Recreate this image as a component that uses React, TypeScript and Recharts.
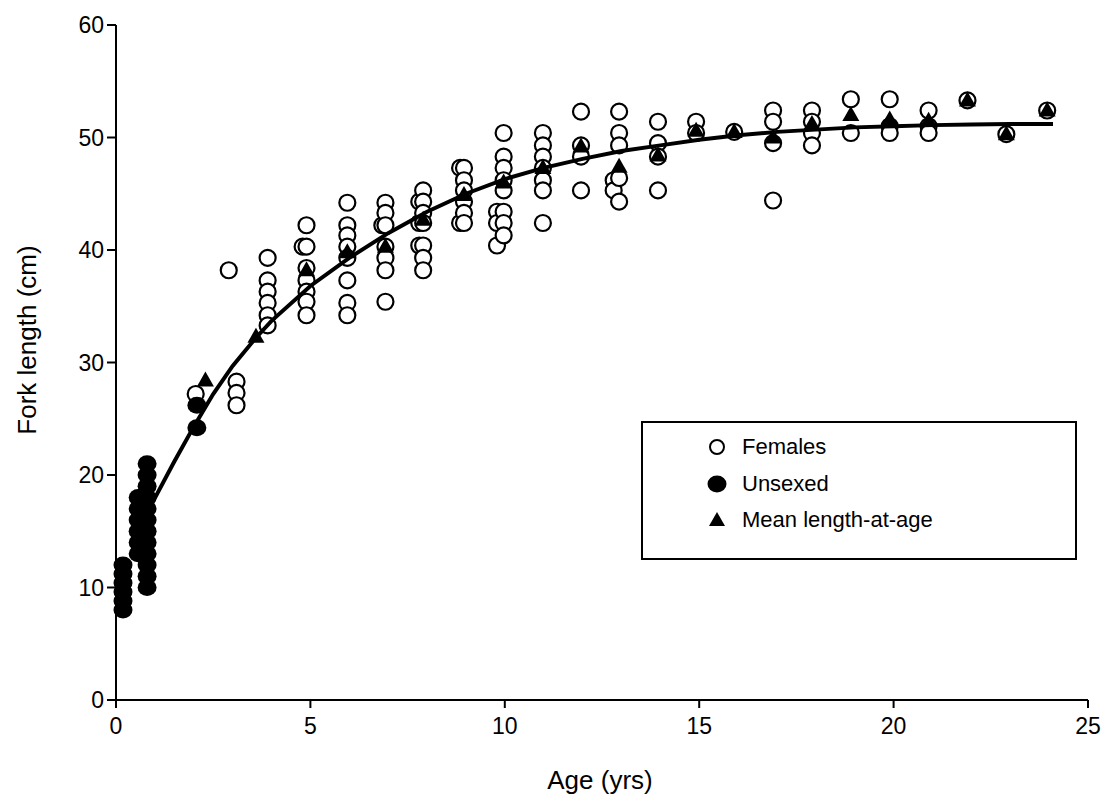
import { ScatterChart, Scatter, XAxis, YAxis } from 'recharts';

// [age (yrs), fork length (cm)]
const femalePoints: [number, number][] = [
  [2.05, 27.2],
  [2.9, 38.2],
  [3.1, 28.3], [3.1, 27.3], [3.1, 26.2],
  [3.9, 39.3], [3.9, 37.3], [3.9, 36.3], [3.9, 35.3], [3.9, 34.2], [3.9, 33.3],
  [4.8, 40.3],
  [4.9, 42.2], [4.9, 40.3], [4.9, 38.4], [4.9, 37.3], [4.9, 36.3], [4.9, 35.4], [4.9, 34.2],
  [5.95, 44.2], [5.95, 42.2], [5.95, 41.3], [5.95, 40.3], [5.95, 39.3], [5.95, 37.3], [5.95, 35.3], [5.95, 34.2],
  [6.85, 42.2],
  [6.93, 44.2], [6.93, 43.3], [6.93, 42.2], [6.93, 40.3], [6.93, 39.3], [6.93, 38.2], [6.93, 35.4],
  [7.8, 44.3], [7.8, 42.4], [7.8, 40.4],
  [7.9, 45.3], [7.9, 44.3], [7.9, 43.3], [7.9, 42.4], [7.9, 40.4], [7.9, 39.3], [7.9, 38.2],
  [8.85, 47.3], [8.85, 42.4],
  [8.95, 47.3], [8.95, 46.2], [8.95, 45.3], [8.95, 44.3], [8.95, 43.3], [8.95, 42.4],
  [9.8, 43.4], [9.8, 42.4], [9.8, 40.4],
  [9.97, 50.4], [9.97, 48.3], [9.97, 47.3], [9.97, 46.2], [9.97, 45.3], [9.97, 43.4], [9.97, 42.4], [9.97, 41.3],
  [10.98, 50.4], [10.98, 49.3], [10.98, 48.3], [10.98, 47.3], [10.98, 46.2], [10.98, 45.3], [10.98, 42.4],
  [11.96, 52.3], [11.96, 49.3], [11.96, 48.3], [11.96, 45.3],
  [12.8, 46.2], [12.8, 45.3],
  [12.94, 52.3], [12.94, 50.4], [12.94, 49.3], [12.94, 46.4], [12.94, 44.3],
  [13.94, 51.4], [13.94, 49.5], [13.94, 48.3], [13.94, 45.3],
  [14.92, 51.4], [14.92, 50.4],
  [15.9, 50.5],
  [16.9, 52.4], [16.9, 51.4], [16.9, 49.5], [16.9, 44.4],
  [17.9, 52.4], [17.9, 51.4], [17.9, 50.4], [17.9, 49.3],
  [18.9, 53.4], [18.9, 50.4],
  [19.9, 53.4], [19.9, 51.0], [19.9, 50.4],
  [20.9, 52.4], [20.9, 51.0], [20.9, 50.4],
  [21.9, 53.3],
  [22.9, 50.3],
  [23.95, 52.4],
];

const unsexedPoints: [number, number][] = [
  [0.18, 8], [0.18, 8.8], [0.18, 9.6], [0.18, 10.4], [0.18, 11.2], [0.18, 12],
  [0.57, 13], [0.57, 14], [0.57, 15], [0.57, 16], [0.57, 17], [0.57, 18],
  [0.8, 10], [0.8, 11], [0.8, 12], [0.8, 13], [0.8, 14], [0.8, 15],
  [0.8, 16], [0.8, 17], [0.8, 18], [0.8, 19], [0.8, 20], [0.8, 21],
  [2.08, 26.2], [2.08, 24.2],
];

const meanPoints: [number, number][] = [
  [2.3, 28.4], [3.6, 32.3], [4.9, 38.2], [5.95, 39.8], [6.93, 40.3], [7.9, 42.7],
  [8.95, 44.9], [9.97, 46.0], [10.98, 47.3], [11.96, 49.2], [12.94, 47.4], [13.94, 48.4],
  [14.92, 50.6], [15.9, 50.5], [16.9, 50.0], [17.9, 51.2], [18.9, 52.0], [19.9, 51.6],
  [20.9, 51.5], [21.9, 53.3], [22.9, 50.3], [23.95, 52.4],
];

// fitted growth curve
const curvePoints: [number, number][] = [
  [0.9, 17.3], [1.5, 21.2], [2, 24.3], [2.5, 27.2], [3, 29.7], [3.6, 32.2], [4, 33.7],
  [5, 36.8], [6, 39.3], [7, 41.5], [8, 43.4], [9, 45.0], [10, 46.3], [11, 47.3],
  [12, 48.1], [13, 48.8], [14, 49.3], [15, 49.8], [16, 50.2], [17, 50.5], [18, 50.7],
  [19, 50.9], [20, 51.0], [21, 51.1], [22, 51.15], [23, 51.2], [24.1, 51.2],
];

const xTicks = [0, 5, 10, 15, 20, 25];
const yTicks = [0, 10, 20, 30, 40, 50, 60];

const toRows = (pts: [number, number][]) => pts.map(([age, len]) => ({ age, len }));

const FONT = '"Liberation Sans", Arial, sans-serif';

const FemaleDot = (p: any) => (
  <circle cx={p.cx} cy={p.cy} r={8} fill="#fff" stroke="#000" strokeWidth={2.2} />
);
const UnsexedDot = (p: any) => <ellipse cx={p.cx} cy={p.cy} rx={9.5} ry={8.5} fill="#000" />;
const MeanDot = (p: any) => (
  <polygon
    points={`${p.cx},${p.cy - 9} ${p.cx - 8.5},${p.cy + 6} ${p.cx + 8.5},${p.cy + 6}`}
    fill="#000"
  />
);
const NoDot = () => <g />;

const tickStyle = { fill: '#000', fontSize: 23, fontFamily: FONT };

const Legend = () => (
  <div
    style={{
      position: 'absolute',
      left: 641,
      top: 421,
      width: 432,
      height: 135,
      border: '2px solid #000',
      background: '#fff',
      fontFamily: FONT,
      fontSize: 22,
      color: '#000',
    }}
  >
    {[
      { label: 'Females', icon: <circle cx={12} cy={12} r={7} fill="#fff" stroke="#000" strokeWidth={2} /> },
      { label: 'Unsexed', icon: <ellipse cx={12} cy={12} rx={9.5} ry={8.5} fill="#000" /> },
      { label: 'Mean length-at-age', icon: <polygon points="12,4 4,18 20,18" fill="#000" /> },
    ].map((e, i) => (
      <div key={e.label} style={{ position: 'absolute', left: 62, top: 12 + i * 36.5, display: 'flex', alignItems: 'center', height: 24 }}>
        <svg width={24} height={24}>{e.icon}</svg>
        <span style={{ marginLeft: 13 }}>{e.label}</span>
      </div>
    ))}
  </div>
);

export default function App() {
  return (
    <div style={{ position: 'absolute', left: 0, top: 0, width: 1111, height: 802, background: '#fff' }}>
      <ScatterChart width={1111} height={802} margin={{ top: 25, right: 23, bottom: 52, left: 56 }}>
        <XAxis
          type="number"
          dataKey="age"
          domain={[0, 25]}
          ticks={xTicks}
          tick={tickStyle}
          tickSize={8}
          tickMargin={10}
          height={50}
          axisLine={{ stroke: '#000', strokeWidth: 2 }}
          tickLine={{ stroke: '#000', strokeWidth: 2 }}
          label={() => (
            <text x={600} y={780} textAnchor="middle" dominantBaseline="central" fontSize={26} fontFamily={FONT} fill="#000">
              Age (yrs)
            </text>
          )}
        />
        <YAxis
          type="number"
          dataKey="len"
          domain={[0, 60]}
          ticks={yTicks}
          tick={tickStyle}
          tickSize={9}
          tickMargin={3}
          width={60}
          axisLine={{ stroke: '#000', strokeWidth: 2 }}
          tickLine={{ stroke: '#000', strokeWidth: 2 }}
          label={() => (
            <text
              x={27}
              y={340}
              transform="rotate(-90 27 340)"
              textAnchor="middle"
              dominantBaseline="central"
              fontSize={26}
              fontFamily={FONT}
              fill="#000"
            >
              Fork length (cm)
            </text>
          )}
        />
        <Scatter name="Females" data={toRows(femalePoints)} shape={FemaleDot} isAnimationActive={false} />
        <Scatter name="Unsexed" data={toRows(unsexedPoints)} shape={UnsexedDot} isAnimationActive={false} />
        <Scatter
          name="Fit"
          data={toRows(curvePoints)}
          shape={NoDot}
          line={{ stroke: '#000', strokeWidth: 4, type: 'monotone' } as any}
          lineType="joint"
          isAnimationActive={false}
        />
        <Scatter name="Mean length-at-age" data={toRows(meanPoints)} shape={MeanDot} isAnimationActive={false} />
      </ScatterChart>
      <Legend />
    </div>
  );
}
